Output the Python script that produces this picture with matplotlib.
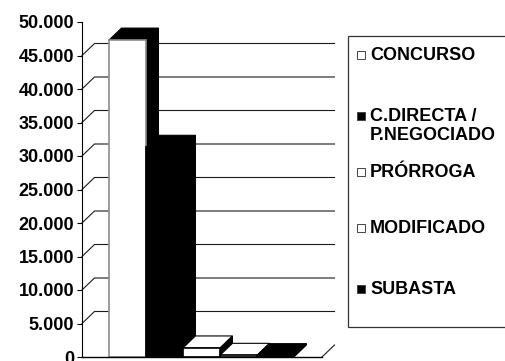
import numpy as np
import matplotlib.pyplot as plt
from matplotlib.patches import Polygon, Rectangle

# ====== data ======
series = ["CONCURSO", "C.DIRECTA /\nP.NEGOCIADO", "PRÓRROGA", "MODIFICADO", "SUBASTA"]
values = [47300, 31300, 1350, 250, 200]
yticks = [0, 5000, 10000, 15000, 20000, 25000, 30000, 35000, 40000, 45000, 50000]
ytick_labels = ["0", "5.000", "10.000", "15.000", "20.000", "25.000",
                "30.000", "35.000", "40.000", "45.000", "50.000"]

# ====== style ======
front_colors = ["white", "black", "white", "white", "black"]
top_colors = ["black", "black", "white", "white", "black"]
edge_colors = ["#8c8c8c", "black", "black", "black", "black"]
legend_fill = ["white", "black", "white", "white", "black"]
legend_y = [55, 116, 172, 228, 289]          # pixel rows of legend entries

plt.rcParams['font.family'] = ['Liberation Sans', 'DejaVu Sans']
plt.rcParams['font.weight'] = 'bold'
fsize = 13

W, H = 506, 361
fig = plt.figure(figsize=(W / 100, H / 100), dpi=100)
fig.patch.set_facecolor('white')

# front plane of the 3d box: x 82..322 px, y 22..357 px
ax = fig.add_axes([82 / W, (H - 357) / H, 240 / W, 335 / H])
x0, x1 = -1.23, 5.26
ax.set_xlim(x0, x1)
ax.set_ylim(0, 50000)
ax.patch.set_alpha(0)

# depth offset of the box (data units)
dx = 12.5 / 37
dy = 12 / 335 * 50000

# back wall gridlines with the diagonal connectors
for v in yticks[1:-1]:
    ax.plot([x0, x0 + dx, x1 + dx], [v, v + dy, v + dy],
            color='#1a1a1a', lw=0.8, zorder=1, clip_on=False)
ax.plot([x1, x1 + dx], [0, dy], color='#1a1a1a', lw=0.8, zorder=1, clip_on=False)

# bars, left to right so each front face hides the neighbour's side
for i, v in enumerate(values):
    l, r = i - 0.5, i + 0.5
    side = Polygon([(r, 0), (r, v), (r + dx, v + dy), (r + dx, dy)],
                   closed=True, facecolor='black', edgecolor='black', lw=0.8,
                   zorder=2 + i, clip_on=False)
    top = Polygon([(l, v), (l + dx, v + dy), (r + dx, v + dy), (r, v)],
                  closed=True, facecolor=top_colors[i], edgecolor='black', lw=0.8,
                  zorder=2 + i, clip_on=False)
    front = Rectangle((l, 0), 1, v, facecolor=front_colors[i],
                      edgecolor=edge_colors[i], lw=1.2, zorder=2 + i, clip_on=False)
    for p in (side, top, front):
        ax.add_patch(p)

# axes lines
for s in ['top', 'right', 'bottom']:
    ax.spines[s].set_visible(False)
ax.spines['left'].set_color('black')
ax.spines['left'].set_linewidth(0.8)
ax.plot([x0, x1], [0, 0], color='black', lw=1.0, zorder=20, clip_on=False)

ax.set_xticks([])
ax.set_yticks(yticks)
ax.set_yticklabels(ytick_labels)
ax.tick_params(axis='y', direction='out', length=3.6, width=0.8, pad=2,
               labelsize=fsize, colors='black')
for lab in ax.get_yticklabels():
    lab.set_fontweight('bold')

# legend box (runs past the right edge)
fig.patches.append(Rectangle((348 / W, (H - 327) / H), 170 / W, 291 / H,
                             transform=fig.transFigure, facecolor='white',
                             edgecolor='#333333', lw=0.9, zorder=0))
for name, fill, yp in zip(series, legend_fill, legend_y):
    yf = (H - yp) / H
    fig.patches.append(Rectangle((357 / W, yf - 4 / H), 8 / W, 8 / H,
                                 transform=fig.transFigure, facecolor=fill,
                                 edgecolor='#444444', lw=0.7, zorder=3))
    fig.text(370 / W, yf + 8 / H, name, ha='left', va='top', fontsize=fsize,
             fontweight='bold', linespacing=1.12, color='black')

fig.savefig('out.png', dpi=100, facecolor='white')
